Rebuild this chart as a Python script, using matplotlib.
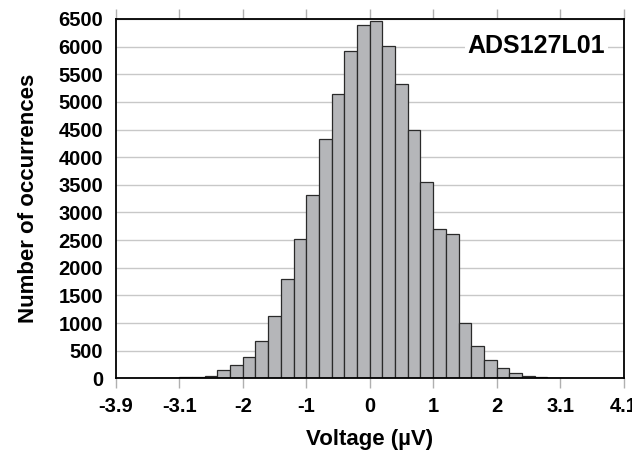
import matplotlib
matplotlib.use("Agg")
import matplotlib.pyplot as plt
import numpy as np

plt.rcParams['font.family'] = ['Liberation Sans', 'DejaVu Sans']
plt.rcParams['font.weight'] = 'bold'

# bin edges in tick units (5 bins per major tick), from -3.4 to 3.2
bin_left = np.round(np.arange(-3.4, 3.2, 0.2), 1)
counts = [5, 5, 20, 18, 48, 145, 235, 391, 681, 1128, 1793, 2517, 3324,
          4327, 5142, 5921, 6385, 6457, 6011, 5324, 4492, 3545, 2695, 2616,
          1000, 579, 331, 181, 99, 42, 18, 10, 3]

xtick_pos = [-4, -3, -2, -1, 0, 1, 2, 3, 4]
xtick_labels = ['-3.9', '-3.1', '-2', '-1', '0', '1', '2', '3.1', '4.1']
yticks = list(range(0, 6501, 500))

fig = plt.figure(figsize=(6.32, 4.51), dpi=100)
ax = fig.add_axes([0.1832, 0.161, 0.8035, 0.797])

ax.bar(bin_left[:len(counts)], counts, width=0.2, align='edge',
       color='#b5b6b9', edgecolor='#2a2a2a', linewidth=0.9, zorder=2)

ax.set_xlim(-4, 4)
ax.set_ylim(0, 6500)
ax.set_xticks(xtick_pos)
ax.set_xticklabels(xtick_labels)
ax.set_yticks(yticks)
ax.yaxis.grid(True, color='#c8c8c8', linewidth=1.0, zorder=0)
ax.set_axisbelow(True)

ax.tick_params(axis='x', which='both', direction='out', length=7.5, width=1,
               color='#b0b0b0', top=True, bottom=True, labelsize=14.5, pad=6)
ax.tick_params(axis='y', length=0, labelsize=14.5, pad=9)
for lab in ax.get_xticklabels() + ax.get_yticklabels():
    lab.set_fontweight('bold')

for s in ax.spines.values():
    s.set_linewidth(1.3)
    s.set_color('black')

ax.set_xlabel('Voltage (µV)', fontsize=16, fontweight='bold', labelpad=9)
ax.set_ylabel('Number of occurrences', fontsize=16, fontweight='bold', labelpad=14)

ax.text(0.828, 0.925, 'ADS127L01', transform=ax.transAxes, ha='center', va='center',
        fontsize=18, fontweight='bold',
        bbox=dict(facecolor='white', edgecolor='none', pad=2), zorder=3)

fig.savefig('out.png', dpi=100)
